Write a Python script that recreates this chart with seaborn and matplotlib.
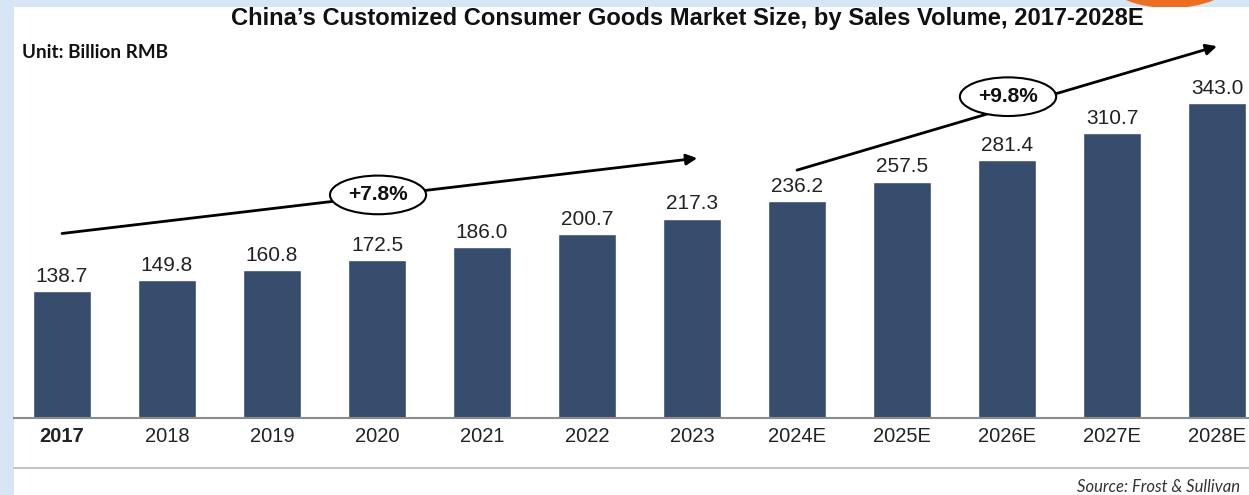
import matplotlib
matplotlib.use("Agg")
import matplotlib.pyplot as plt
import matplotlib.patches as mpatches
import seaborn as sns
import pandas as pd

years = ["2017", "2018", "2019", "2020", "2021", "2022", "2023",
         "2024E", "2025E", "2026E", "2027E", "2028E"]
sales = [138.7, 149.8, 160.8, 172.5, 186.0, 200.7, 217.3,
         236.2, 257.5, 281.4, 310.7, 343.0]
cagr_labels = ["+7.8%", "+9.8%"]

W, H = 1249, 495
BAR = "#364d6e"
BORDER = "#d7e6f4"

sns.set_theme(style="white")
plt.rcParams["font.family"] = ["Liberation Sans", "DejaVu Sans"]

fig = plt.figure(figsize=(W / 100, H / 100), dpi=100, facecolor=BORDER)

# orange tab peeking in at the top, then the white panel over the blue frame
fig.patches.append(mpatches.Ellipse((1170 / W, 1 + 18 / H), 122 / W, 52 / H,
                                    transform=fig.transFigure, facecolor="#ee6d1e",
                                    edgecolor="none", zorder=-3))
fig.patches.append(mpatches.Rectangle((14 / W, 0), 1 - 14 / W, 1 - 7 / H,
                                      transform=fig.transFigure, facecolor="white",
                                      edgecolor="none", zorder=-2))

ax = fig.add_axes([14 / W, 77 / H, 1235 / W, 411 / H])
ax.set_facecolor("none")

df = pd.DataFrame({"year": years, "sales": sales})
sns.barplot(data=df, x="year", y="sales", color=BAR, saturation=1,
            width=0.545, ax=ax)

ax.set_xlim(-0.457, 11.305)
ax.set_ylim(0, 447.7)
ax.bar_label(ax.containers[0], labels=[f"{v:.1f}" for v in sales],
             padding=3.7, fontsize=15, color="#222222")

for s in ["top", "left", "right"]:
    ax.spines[s].set_visible(False)
ax.spines["bottom"].set_color("#8c8c8c")
ax.spines["bottom"].set_linewidth(1.5)
ax.set_yticks([])
ax.set_xlabel("")
ax.set_ylabel("")
ax.tick_params(axis="x", length=0, pad=6.8, labelsize=14.5, labelcolor="#222222")
ax.get_xticklabels()[0].set_fontweight("bold")

# CAGR arrows (data coords)
arrows = [((0, 201), (6.05, 283)), ((7.0, 270), (11.0, 405))]
label_pos = [(3.01, 243), (9.01, 350)]
for (start, end), (lx, ly), lab in zip(arrows, label_pos, cagr_labels):
    ax.annotate("", xy=end, xytext=start,
                arrowprops=dict(arrowstyle="-|>", color="black", lw=2,
                                mutation_scale=16, shrinkA=0, shrinkB=0))
    ax.text(lx, ly, lab, ha="center", va="center", fontsize=15,
            fontweight="bold", color="#111111", zorder=5,
            bbox=dict(boxstyle="ellipse,pad=0.2", facecolor="white",
                      edgecolor="black", lw=1.5))

fig.text(687 / W, 1 - 18 / H,
         "China\u2019s Customized Consumer Goods Market Size, by Sales Volume, 2017-2028E",
         ha="center", va="center", fontsize=17.1, fontweight="bold", color="#111111")
fig.text(22 / W, 1 - 53 / H, "Unit: Billion RMB", ha="left", va="center",
         fontsize=13.6, fontweight="bold", family="Lato", color="#111111")

fig.lines.append(plt.Line2D([14 / W, 1], [1 - 468 / H, 1 - 468 / H],
                            transform=fig.transFigure, color="#c4c4c4", lw=1.5))
fig.text(1240 / W, 1 - 487 / H, "Source: Frost & Sullivan", ha="right",
         va="center", fontsize=12, style="italic", family="Lato", color="#333333")

fig.savefig("out.png", dpi=100, facecolor=fig.get_facecolor())
